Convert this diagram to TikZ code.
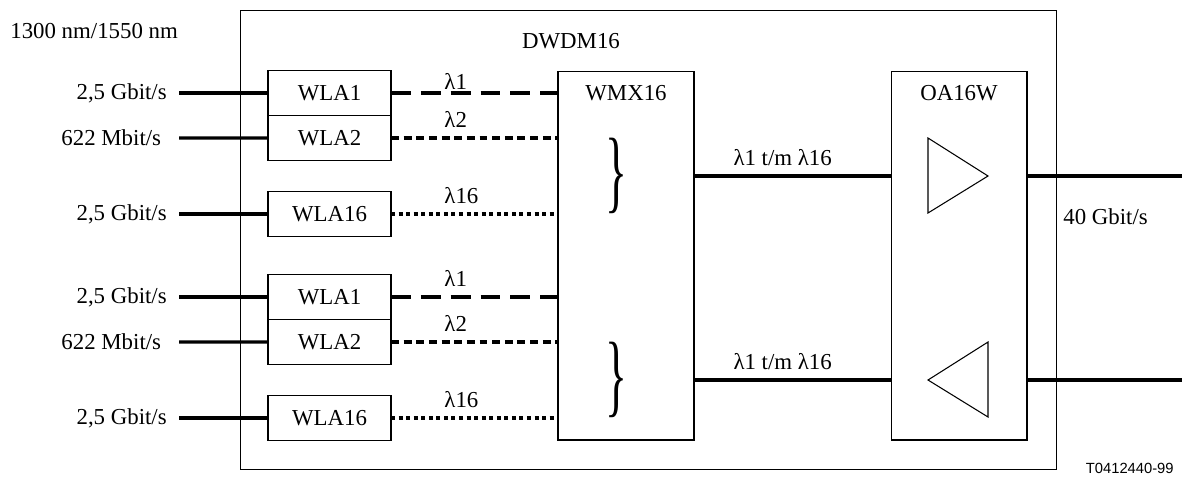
\documentclass[tikz,border=0pt]{standalone}
\usepackage{fontspec}
\setmainfont{Liberation Serif}
\newfontfamily\codefont{Liberation Sans}
\usetikzlibrary{positioning}

\newcommand{\grotehaak}{\scalebox{2}[4]{\}}}

\begin{document}
\begin{tikzpicture}[
		x=0.02cm, y=-0.02cm,
		font=\fontsize{13}{15}\selectfont,
		kastje/.style={draw, line width=0.6pt, inner sep=0pt, outer sep=0pt},
		wla/.style={kastje, minimum width=2.46cm, minimum height=0.9cm},
		blok/.style={kastje, minimum width=2.72cm, minimum height=7.38cm},
		vezel/.style={line width=1.8pt},
		lamlang/.style={vezel, dash pattern=on 11.3pt off 5.7pt},
		lamkort/.style={vezel, dash pattern=on 4.5pt off 2.7pt},
		lampunt/.style={vezel, dash pattern=on 2.3pt off 2pt},
		rate/.style={anchor=east, inner ysep=0pt, inner xsep=6.8pt},
		golf/.style={pos=0.3, anchor=south west, inner xsep=1pt, inner ysep=5pt}
	]
	\useasboundingbox (0,0) rectangle (1182,477);

	% frame
	\node[kastje, minimum width=16.34cm, minimum height=9.2cm] (dwdm) at (648.5,240) {};
	\node (dwdmnaam) at (571,41) {DWDM16};
	\node[anchor=west, inner sep=0pt] (golflengte) at (10,31) {1300 nm/1550 nm};

	% first group
	\node[wla] (a1) at (329.5,93) {WLA1};
	\node[wla, below=0pt of a1] (a2) {WLA2};
	\node[wla] (a16) at (329.5,214) {WLA16};
	\node[rate] (ra1) at (179,93) {2,5 Gbit/s};
	\node[rate, inner xsep=10pt] (ra2) at (179,138) {622 Mbit/s};
	\node[rate] (ra16) at (179,214) {2,5 Gbit/s};

	% second group
	\node[wla] (b1) at (329.5,297) {WLA1};
	\node[wla, below=0pt of b1] (b2) {WLA2};
	\node[wla] (b16) at (329.5,418) {WLA16};
	\node[rate] (rb1) at (179,297) {2,5 Gbit/s};
	\node[rate, inner xsep=10pt] (rb2) at (179,342) {622 Mbit/s};
	\node[rate] (rb16) at (179,418) {2,5 Gbit/s};

	% multiplexer and amplifier
	\node[blok] (wmx) at (626,255.5) {};
	\node[below=8pt of wmx.north, inner sep=0pt] (wmxnaam) {WMX16};
	\node[blok] (oa) at (959,255.5) {};
	\node[below=8pt of oa.north, inner sep=0pt] (oanaam) {OA16W};
	\node[inner sep=0pt] (haak1) at (616,176) {\grotehaak};
	\node[inner sep=0pt] (haak2) at (616,380) {\grotehaak};

	\draw[vezel] (ra1.east) -- (a1.west);
	\draw[vezel] (ra2.east) -- (a2.west);
	\draw[vezel] (ra16.east) -- (a16.west);
	\draw[vezel] (rb1.east) -- (b1.west);
	\draw[vezel] (rb2.east) -- (b2.west);
	\draw[vezel] (rb16.east) -- (b16.west);

	\draw[lamlang] (a1.east) -- (a1.east -| wmx.west) node[golf, inner ysep=1pt] {λ1};
	\draw[lamkort] (a2.east) -- (a2.east -| wmx.west) node[golf] {λ2};
	\draw[lampunt] (a16.east) -- (a16.east -| wmx.west) node[golf] {λ16};
	\draw[lamlang] (b1.east) -- (b1.east -| wmx.west) node[golf] {λ1};
	\draw[lamkort] (b2.east) -- (b2.east -| wmx.west) node[golf] {λ2};
	\draw[lampunt] (b16.east) -- (b16.east -| wmx.west) node[golf] {λ16};

	\draw[vezel] (wmx.east |- 0,176) -- (oa.west |- 0,176)
	node[pos=0.45, above, inner sep=5pt] {λ1 t/m λ16};
	\draw[vezel] (wmx.east |- 0,380) -- (oa.west |- 0,380)
	node[pos=0.45, above, inner sep=5pt] {λ1 t/m λ16};

	% amplifier triangles
	\draw[line width=0.6pt] (928,138) -- (928,213) -- (988,176) -- cycle;
	\draw[line width=0.6pt] (988,342) -- (988,417) -- (928,380) -- cycle;

	\coordinate (uit1) at (1182,176);
	\coordinate (uit2) at (1182,380);
	\draw[vezel] (oa.east |- uit1) -- (uit1);
	\draw[vezel] (oa.east |- uit2) -- (uit2);
	\node[anchor=west, inner sep=0pt] (snelheid) at (1063,217) {40 Gbit/s};

	\node[anchor=east, inner sep=0pt, font=\codefont\fontsize{8.4}{10}\selectfont] (code) at (1174,468) {T0412440-99};
\end{tikzpicture}
\end{document}
